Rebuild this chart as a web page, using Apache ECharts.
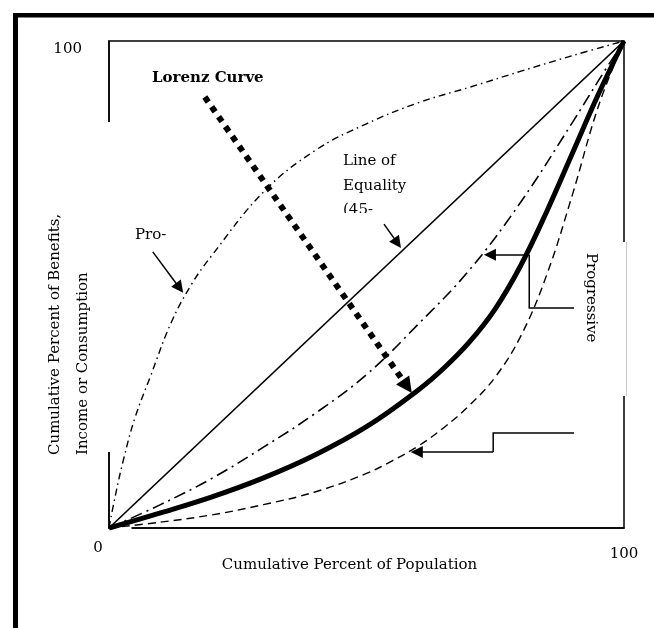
<!DOCTYPE html>
<html>
<head>
<meta charset="utf-8">
<script src="https://cdn.jsdelivr.net/npm/echarts/dist/echarts.min.js"></script>
<style>
html,body{margin:0;padding:0;background:#fff;}
#chart{width:654px;height:628px;}
</style>
</head>
<body>
<div id="chart"></div>
<script>
// ---- data (percent of population, percent of benefits) ----
const xTicks = [0, 100];
const yTicks = [0, 100];
const equality = [[0,0],[100,100]];
const proPoor = [[0,0],[1.2,6.5],[2.8,14],[5,22.5],[8,31],[12,42],[16,50],[20,56],[30,69],[40,77.5],[50,83],[60,87.3],[70,90.5],[80,93.8],[90,97],[100,100]];
const dashDot = [[0,0],[10,4.8],[20,10.2],[30,16.6],[40,23.5],[50,31.5],[60,41.8],[70,53],[80,67],[90,83.3],[95,91.8],[100,100]];
const lorenz = [[0,0],[10,3.1],[20,6.4],[30,10.3],[40,15],[50,20.8],[60,28.3],[65,32.8],[70,38.2],[75,45],[80,54],[85,65],[90,77],[95,89],[100,100]];
const dashed = [[0,0],[10,1.2],[20,2.7],[30,4.8],[40,7.4],[50,11.2],[55,13.8],[60,16.8],[65,20.6],[70,25.2],[75,31],[80,39.5],[85,52],[90,68.5],[95,86.5],[100,100]];

// annotation arrows (data coordinates)
const lorenzArrow = [[18.6,88.5],[58.8,27.7]];
const equalityArrow = [[53.4,62.4],[56.7,57.5]];
const proArrow = [[8.5,56.7],[14.4,48.3]];
const elbowA = [[90.3,45.2],[81.6,45.2],[81.6,56.1]];
const elbowATip = [[81.6,56.1],[72.8,56.1]];
const elbowB = [[90.3,19.5],[74.6,19.5],[74.6,15.6]];
const elbowBTip = [[74.6,15.6],[58.6,15.6]];

const FONT = 'DejaVu Serif';
const chart = echarts.init(document.getElementById('chart'), null, {renderer:'canvas'});

function baseOption(){
  return {
    animation:false,
    backgroundColor:'#fff',
    grid:{left:109, top:41, width:515, height:487, show:true, borderColor:'#000', borderWidth:1.5, backgroundColor:'transparent'},
    xAxis:{type:'value', min:xTicks[0], max:xTicks[1], interval:100,
      axisLine:{show:true, lineStyle:{color:'#000', width:1.5}},
      axisTick:{show:false}, splitLine:{show:false},
      axisLabel:{margin:13, color:'#000', fontFamily:FONT, fontSize:15,
        formatter:v => v===0 ? '{z|0}' : '{h|100}',
        rich:{z:{fontFamily:FONT,fontSize:15,color:'#000',padding:[0,22,0,0]},
              h:{fontFamily:FONT,fontSize:15,color:'#000',padding:[6,0,0,0]}}}
    },
    yAxis:{type:'value', min:yTicks[0], max:yTicks[1], interval:100,
      axisLine:{show:true, lineStyle:{color:'#000', width:1.5}},
      axisTick:{show:false}, splitLine:{show:false},
      axisLabel:{margin:27, color:'#000', fontFamily:FONT, fontSize:15,
        formatter:v => v===100 ? '{h|100}' : '',
        rich:{h:{fontFamily:FONT,fontSize:15,color:'#000',padding:[16,0,0,0]}}}
    }
  };
}

function curve(name, data, width, type){
  return {type:'line', name, data, smooth:0.4, symbol:'none', z:3,
    lineStyle:{color:'#000', width, type, cap:'butt', join:'round'}};
}

chart.setOption(Object.assign(baseOption(), {series:[curve('eq', equality, 1.5, 'solid')]}));

// shorten arrow shaft end so the arrow tip lands exactly on the target point
function arrowEnd(seg, size){
  const a = chart.convertToPixel({gridIndex:0}, seg[0]);
  const b = chart.convertToPixel({gridIndex:0}, seg[1]);
  const dx = b[0]-a[0], dy = b[1]-a[1], L = Math.hypot(dx,dy);
  const p = [b[0]-dx/L*size/2, b[1]-dy/L*size/2];
  return [seg[0], chart.convertFromPixel({gridIndex:0}, p)];
}

function arrowSeries(seg, size, width, type){
  return {type:'lines', coordinateSystem:'cartesian2d', z:4, silent:true,
    symbol:['none','triangle'], symbolSize:size,
    lineStyle:{color:'#000', width, type, opacity:1, curveness:0, cap:'butt'},
    data:[{coords:arrowEnd(seg, size)}]};
}

const opt = baseOption();
opt.series = [
  curve('Line of Equality', equality, 1.7, 'solid'),
  curve('Pro-poor', proPoor, 1.4, [7,4,1.5,4]),
  curve('Less progressive', dashDot, 1.6, [12,5,2,5]),
  curve('Lorenz Curve', lorenz, 5, 'solid'),
  curve('Progressive', dashed, 1.4, [8,5]),
  arrowSeries(lorenzArrow, 16, 6, [6,6]),
  arrowSeries(equalityArrow, 12, 1.5, 'solid'),
  arrowSeries(proArrow, 12, 1.5, 'solid'),
  arrowSeries(elbowATip, 12, 1.5, 'solid'),
  arrowSeries(elbowBTip, 12, 1.5, 'solid'),
  {type:'lines', coordinateSystem:'cartesian2d', polyline:true, z:4, silent:true,
    lineStyle:{color:'#000', width:1.5, opacity:1},
    data:[{coords:elbowA},{coords:elbowB}]}
];
const txt = (x,y,text,extra) => Object.assign({type:'text', x, y, z:10,
  style:Object.assign({text, fill:'#000', font:'15px "'+FONT+'"', textAlign:'left', textVerticalAlign:'middle'}, extra||{})});
opt.graphic = [
  // outer frame (top and left)
  {type:'rect', z:20, shape:{x:13,y:13,width:641,height:4.5}, style:{fill:'#000'}},
  {type:'rect', z:20, shape:{x:13,y:13,width:5,height:615}, style:{fill:'#000'}},
  // gaps in the plot box
  {type:'rect', z:1, shape:{x:104,y:122,width:9,height:330}, style:{fill:'#fff'}},
  {type:'rect', z:1, shape:{x:110.5,y:525,width:21,height:6}, style:{fill:'#fff'}},
  {type:'rect', z:6, shape:{x:576,y:242,width:50,height:154}, style:{fill:'#fff'}},
  {type:'line', z:6, shape:{x1:626.5,y1:242,x2:626.5,y2:396}, style:{stroke:'#c8c8c8', lineWidth:1}},
  // labels
  txt(152, 78, 'Lorenz Curve', {font:'bold 15px "'+FONT+'"'}),
  txt(343, 161, 'Line of'),
  txt(343, 186, 'Equality'),
  txt(343, 210, '(45-'),
  {type:'rect', z:11, shape:{x:338,y:213,width:44,height:10}, style:{fill:'#fff'}},
  txt(135, 235, 'Pro-'),
  {type:'text', z:10, x:591, y:253, rotation:-Math.PI/2,
    style:{text:'Progressive', fill:'#000', font:'15px "'+FONT+'"', textAlign:'left', textVerticalAlign:'middle'}},
  {type:'text', z:10, x:55, y:455, rotation:Math.PI/2,
    style:{text:'Cumulative Percent of Benefits,', fill:'#000', font:'15px "'+FONT+'"', textAlign:'left', textVerticalAlign:'middle'}},
  {type:'text', z:10, x:83, y:455, rotation:Math.PI/2,
    style:{text:'Income or Consumption', fill:'#000', font:'15px "'+FONT+'"', textAlign:'left', textVerticalAlign:'middle'}},
  txt(349.5, 565, 'Cumulative Percent of Population', {textAlign:'center'})
];
chart.setOption(opt, true);
</script>
</body>
</html>
